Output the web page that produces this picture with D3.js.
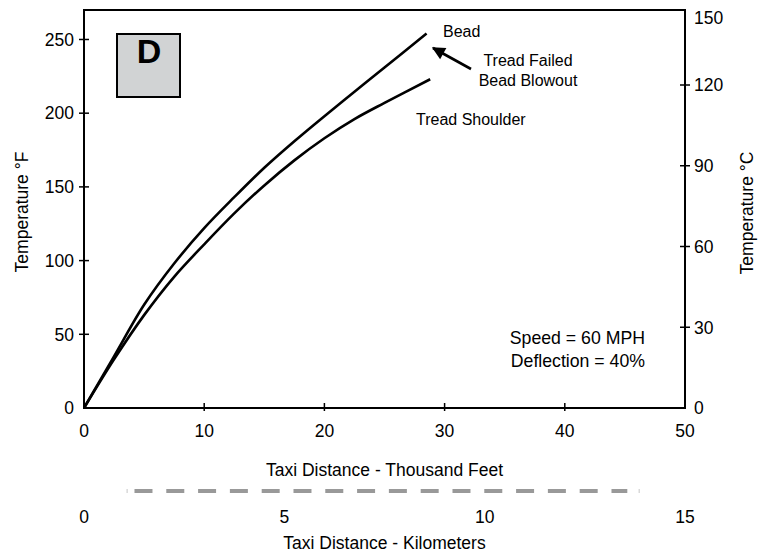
<!DOCTYPE html>
<html><head><meta charset="utf-8">
<script src="https://cdn.jsdelivr.net/npm/d3@7"></script>
<style>
html,body{margin:0;padding:0;background:#fff;}
svg text{font-family:"Liberation Sans",Arial,sans-serif;fill:#000;}
</style></head>
<body><svg id="c" width="758" height="555"></svg>
<script>
// ---- data ----
const beadDist   = [0, 2.5, 5, 7.5, 10, 12.5, 15, 17.5, 20, 22.5, 25, 28.5];
const beadTemp   = [0, 35, 70, 98, 122, 143, 163, 181, 198, 214.5, 231, 254];
const treadDist  = [0, 2.5, 5, 7.5, 10, 12.5, 15, 17.5, 20, 22.5, 25, 28.8];
const treadTemp  = [0, 33, 63, 89, 111, 132, 151, 168, 183, 196, 207, 223];
const ftTicks = [0, 10, 20, 30, 40, 50];
const kmTicks = [0, 5, 10, 15];
const fTicks  = [0, 50, 100, 150, 200, 250];
const cTicks  = [0, 30, 60, 90, 120, 150];

const svg = d3.select("#c");
const L = 84, R = 685, T = 10, B = 408;
const x  = d3.scaleLinear().domain([0, 50]).range([L, R]);
const xk = d3.scaleLinear().domain([0, 15]).range([L, R]);
const y  = d3.scaleLinear().domain([0, 270]).range([B, T]);
const yc = d3.scaleLinear().domain([0, 120]).range([B, 85]);
const FS = 17.5;

// frame
svg.append("rect").attr("x", L).attr("y", T).attr("width", R - L).attr("height", B - T)
  .attr("fill", "none").attr("stroke", "#000").attr("stroke-width", 2);

// left ticks
fTicks.forEach(v => {
  if (v > 0) svg.append("line").attr("x1", L - 5).attr("x2", L + 5).attr("y1", y(v)).attr("y2", y(v))
    .attr("stroke", "#000").attr("stroke-width", 1.5);
  svg.append("text").attr("x", L - 10).attr("y", y(v)).attr("dy", "0.36em")
    .attr("text-anchor", "end").attr("font-size", FS).text(v);
});
// right ticks
cTicks.forEach(v => {
  const yy = yc(v);
  if (v > 0 && yy > T + 2) svg.append("line").attr("x1", R - 5).attr("x2", R + 5).attr("y1", yy).attr("y2", yy)
    .attr("stroke", "#000").attr("stroke-width", 1.5);
  svg.append("text").attr("x", R + 9).attr("y", Math.max(yy, 17.5)).attr("dy", "0.36em")
    .attr("text-anchor", "start").attr("font-size", FS).text(v);
});
// bottom ticks (thousand feet)
ftTicks.forEach(v => {
  if (v > 0 && v < 50) svg.append("line").attr("x1", x(v)).attr("x2", x(v)).attr("y1", B - 5).attr("y2", B + 3)
    .attr("stroke", "#000").attr("stroke-width", 1.5);
  svg.append("text").attr("x", x(v)).attr("y", 437).attr("text-anchor", "middle")
    .attr("font-size", FS).text(v);
});
svg.append("text").attr("x", (L + R) / 2).attr("y", 476).attr("text-anchor", "middle")
  .attr("font-size", FS).text("Taxi Distance - Thousand Feet");

// dashed separator
svg.append("line").attr("x1", x(3.55)).attr("x2", x(3.62)).attr("y1", 491).attr("y2", 491)
  .attr("stroke", "#bbb").attr("stroke-width", 4);
svg.append("line").attr("x1", x(4.2)).attr("x2", x(45.2)).attr("y1", 491).attr("y2", 491)
  .attr("stroke", "#999").attr("stroke-width", 4).attr("stroke-dasharray", "18,13.8");
svg.append("line").attr("x1", x(46.15)).attr("x2", x(46.22)).attr("y1", 491).attr("y2", 491)
  .attr("stroke", "#bbb").attr("stroke-width", 4);

// km axis labels
kmTicks.forEach(v => {
  svg.append("text").attr("x", xk(v)).attr("y", 523).attr("text-anchor", "middle")
    .attr("font-size", FS).text(v);
});
svg.append("text").attr("x", (L + R) / 2).attr("y", 549).attr("text-anchor", "middle")
  .attr("font-size", FS).text("Taxi Distance - Kilometers");

// axis titles
svg.append("text").attr("transform", "translate(28,212) rotate(-90)").attr("text-anchor", "middle")
  .attr("font-size", FS).text("Temperature °F");
svg.append("text").attr("transform", "translate(753,213) rotate(-90)").attr("text-anchor", "middle")
  .attr("font-size", FS).text("Temperature °C");

// curves
const line = d3.line().x(d => x(d[0])).y(d => y(d[1])).curve(d3.curveCatmullRom.alpha(0.5));
svg.append("path").datum(beadDist.map((d, i) => [d, beadTemp[i]])).attr("d", line)
  .attr("fill", "none").attr("stroke", "#000").attr("stroke-width", 2.6);
svg.append("path").datum(treadDist.map((d, i) => [d, treadTemp[i]])).attr("d", line)
  .attr("fill", "none").attr("stroke", "#000").attr("stroke-width", 2.6);

// D box
svg.append("rect").attr("x", 117).attr("y", 34).attr("width", 63).attr("height", 63)
  .attr("fill", "#d1d3d4").attr("stroke", "#000").attr("stroke-width", 2);
svg.append("text").attr("x", 149).attr("y", 63).attr("text-anchor", "middle")
  .attr("font-size", 34).attr("font-weight", "bold").text("D");

// annotations
svg.append("text").attr("x", 443).attr("y", 37).attr("font-size", 16).text("Bead");
svg.append("text").attr("x", 528).attr("y", 66).attr("text-anchor", "middle").attr("font-size", 16).text("Tread Failed");
svg.append("text").attr("x", 528).attr("y", 86).attr("text-anchor", "middle").attr("font-size", 16).text("Bead Blowout");
svg.append("text").attr("x", 416).attr("y", 125).attr("font-size", 16).text("Tread Shoulder");
svg.append("text").attr("x", 645).attr("y", 344).attr("text-anchor", "end").attr("font-size", 17.7).text("Speed = 60 MPH");
svg.append("text").attr("x", 645).attr("y", 367).attr("text-anchor", "end").attr("font-size", 17.7).text("Deflection = 40%");

// arrow
svg.append("defs").append("marker").attr("id", "ah").attr("viewBox", "0 0 10 10")
  .attr("refX", 9).attr("refY", 5).attr("markerWidth", 5.5).attr("markerHeight", 5)
  .attr("markerUnits", "strokeWidth").attr("orient", "auto")
  .append("path").attr("d", "M0,0 L10,5 L0,10 Z").attr("fill", "#000");
svg.append("line").attr("x1", 471).attr("y1", 69).attr("x2", 433).attr("y2", 48)
  .attr("stroke", "#000").attr("stroke-width", 2.6).attr("marker-end", "url(#ah)");
</script></body></html>
